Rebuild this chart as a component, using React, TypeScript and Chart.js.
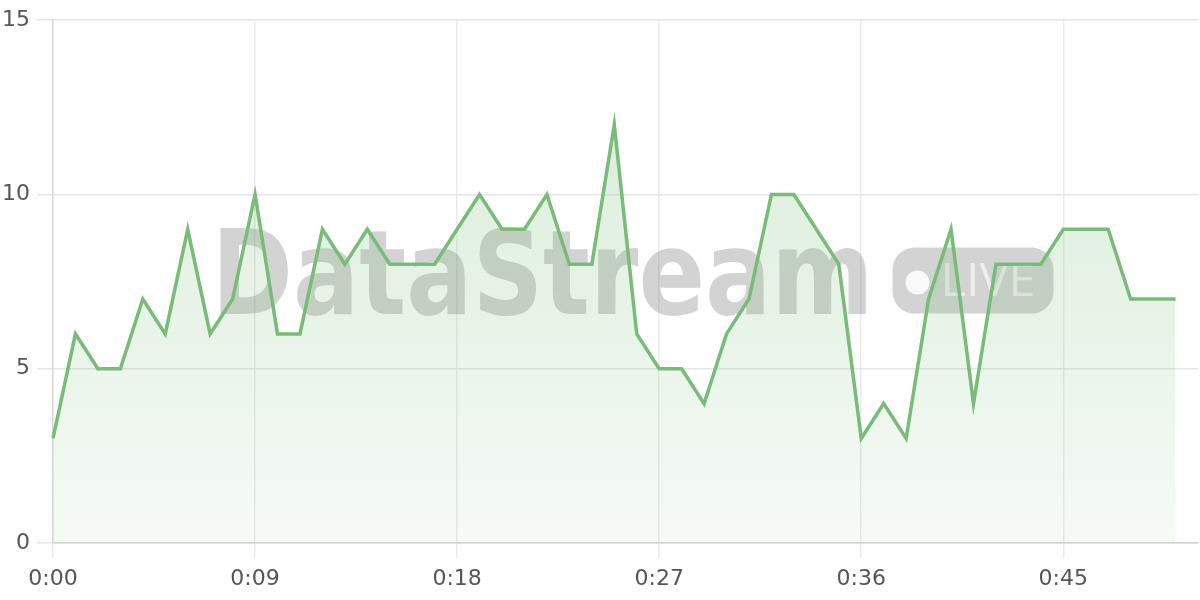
import React, { useEffect, useRef } from "react";
import { Chart, registerables } from "chart.js";

Chart.register(...registerables);

// one sample per second, axis runs one label past the last sample
const labels: string[] = Array.from({ length: 52 }, (_, i) => `0:${String(i).padStart(2, "0")}`);
const values: number[] = [
  3, 6, 5, 5, 7, 6, 9, 6, 7, 10,
  6, 6, 9, 8, 9, 8, 8, 8, 9, 10,
  9, 9, 10, 8, 8, 12, 6, 5, 5, 4,
  6, 7, 10, 10, 9, 8, 3, 4, 3, 7,
  9, 4, 8, 8, 8, 9, 9, 9, 7, 7,
  7,
];
const yTicks: number[] = [0, 5, 10, 15];
const labelEvery = 9;

const LINE = "#78bc78";

const watermark = {
  id: "watermark",
  beforeDatasetsDraw(chart: any) {
    const { ctx, chartArea } = chart;
    const cx = (chartArea.left + chartArea.right) / 2;
    const cy = (chartArea.top + chartArea.bottom) / 2;
    ctx.save();
    // big brand text
    ctx.font = 'bold 117px "DejaVu Sans"';
    ctx.textBaseline = "alphabetic";
    const w = ctx.measureText("DataStream").width;
    const left = cx - 414;
    ctx.fillStyle = "rgba(110,110,110,0.3)";
    ctx.translate(left, cy + 32);
    ctx.scale(662 / w, 1);
    ctx.fillText("DataStream", 0, 0);
    ctx.setTransform(1, 0, 0, 1, 0, 0);
    // LIVE pill
    const px = cx + 267, py = cy - 34, pw = 161, ph = 66, r = 22;
    ctx.beginPath();
    ctx.moveTo(px + r, py);
    ctx.arcTo(px + pw, py, px + pw, py + ph, r);
    ctx.arcTo(px + pw, py + ph, px, py + ph, r);
    ctx.arcTo(px, py + ph, px, py, r);
    ctx.arcTo(px, py, px + pw, py, r);
    ctx.closePath();
    ctx.fillStyle = "rgba(110,110,110,0.3)";
    ctx.fill();
    ctx.fillStyle = "rgba(255,255,255,0.85)";
    ctx.beginPath();
    ctx.arc(cx + 292, cy + 1, 12, 0, Math.PI * 2);
    ctx.fill();
    ctx.fillStyle = "rgba(255,255,255,0.6)";
    ctx.font = '45px "Open Sans"';
    const lw = ctx.measureText("LIVE").width;
    ctx.translate(cx + 315, cy + 14);
    ctx.scale(95 / lw, 1);
    ctx.fillText("LIVE", 0, 0);
    ctx.restore();
  },
};

const App = () => {
  const chartRef = useRef<HTMLCanvasElement | null>(null);

  useEffect(() => {
    document.body.style.margin = "0";
    const ctx = chartRef.current?.getContext("2d");
    if (!ctx) return;

    const tickFont = { family: "DejaVu Sans", size: 22 };

    const chartInstance = new Chart(ctx, {
      type: "line",
      data: {
        labels,
        datasets: [
          {
            data: values,
            borderColor: LINE,
            borderWidth: 3.5,
            pointRadius: 0,
            tension: 0,
            fill: "origin",
            backgroundColor: (c: any) => {
              const area = c.chart.chartArea;
              if (!area) return "rgba(120,188,120,0.15)";
              const g = c.chart.ctx.createLinearGradient(0, area.top, 0, area.bottom);
              g.addColorStop(0, "rgba(120,188,120,0.3)");
              g.addColorStop(1, "rgba(120,188,120,0.07)");
              return g;
            },
          },
        ],
      },
      options: {
        animation: false,
        responsive: true,
        maintainAspectRatio: false,
        devicePixelRatio: 1,
        layout: { padding: { top: 17, right: 2, left: 0, bottom: 0 } },
        plugins: { legend: { display: false }, tooltip: { enabled: false } },
        scales: {
          x: {
            grid: { color: "#ebebeb", tickLength: 15, lineWidth: 1.5 },
            border: { color: "#d2d2d2", width: 1.5 },
            afterFit: (s: any) => {
              s.height = 57;
            },
            ticks: {
              autoSkip: false,
              maxRotation: 0,
              padding: 8,
              color: "#555",
              font: tickFont,
              callback: (_v: any, i: number) => (i % labelEvery === 0 && i < values.length ? labels[i] : null),
            },
          },
          y: {
            min: yTicks[0],
            max: yTicks[yTicks.length - 1],
            grid: { color: "#e6e6e6", tickLength: 16, lineWidth: 1.5 },
            border: { color: "#d8d8d8", width: 1.5 },
            afterFit: (s: any) => {
              s.width = 53;
            },
            ticks: { stepSize: 5, padding: 7, color: "#555", font: tickFont },
          },
        },
      },
      plugins: [watermark],
    });

    return () => {
      chartInstance.destroy();
    };
  }, []);

  return (
    <div style={{ position: "relative", width: 1200, height: 600 }}>
      <canvas ref={chartRef} />
    </div>
  );
};

export default App;
